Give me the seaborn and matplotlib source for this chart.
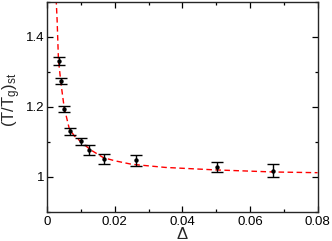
import numpy as np
import pandas as pd
import matplotlib
matplotlib.use("Agg")
import matplotlib.pyplot as plt
from matplotlib.ticker import MultipleLocator, FuncFormatter
import seaborn as sns

# measured points
delta = [0.0034, 0.0040, 0.0050, 0.0066, 0.0100, 0.0124, 0.0168, 0.0263, 0.0501, 0.0668]
ratio = [1.330, 1.274, 1.194, 1.130, 1.101, 1.076, 1.051, 1.047, 1.027, 1.017]
err = [0.011, 0.009, 0.009, 0.010, 0.010, 0.014, 0.014, 0.016, 0.015, 0.018]

# fitted curve
fit_delta = [0.0026, 0.0029, 0.0033, 0.0041, 0.0050, 0.0065, 0.0080, 0.0099,
             0.0127, 0.0166, 0.0200, 0.0250, 0.0350, 0.0497, 0.0670, 0.0800]
fit_ratio = [1.510, 1.448, 1.333, 1.262, 1.197, 1.137, 1.116, 1.100,
             1.077, 1.054, 1.045, 1.035, 1.026, 1.019, 1.013, 1.011]

sns.set_style("ticks")
plt.rcParams["font.family"] = ["Liberation Sans", "DejaVu Sans"]
plt.rcParams["mathtext.fontset"] = "custom"
plt.rcParams["mathtext.rm"] = "Liberation Sans"
plt.rcParams["mathtext.it"] = "Liberation Sans"

fig = plt.figure(figsize=(3.32, 2.41), dpi=100)
ax = fig.add_axes([0.1425, 0.1224, 0.8140, 0.8706])

fit = pd.DataFrame({"delta": fit_delta, "ratio": fit_ratio})
sns.lineplot(data=fit, x="delta", y="ratio", ax=ax, color="red",
             linewidth=1.0, dashes=False, linestyle=(0, (4, 2.5)), sort=False)

ax.errorbar(delta, ratio, yerr=err, fmt="none", ecolor="black",
            elinewidth=1.0, capsize=4.3, capthick=1.0)
pts = pd.DataFrame({"delta": delta, "ratio": ratio})
sns.scatterplot(data=pts, x="delta", y="ratio", ax=ax, color="black",
                s=10, edgecolor="black", linewidth=0, zorder=5)

ax.set_xlim(0, 0.08)
ax.set_ylim(0.9, 1.5)
ax.xaxis.set_major_locator(MultipleLocator(0.02))
ax.xaxis.set_minor_locator(MultipleLocator(0.01))
ax.yaxis.set_major_locator(MultipleLocator(0.2))
ax.yaxis.set_minor_locator(MultipleLocator(0.1))
ax.xaxis.set_major_formatter(FuncFormatter(lambda v, p: f"{v:g}"))
ax.yaxis.set_major_formatter(FuncFormatter(lambda v, p: f"{v:g}"))
ax.tick_params(which="both", direction="in", top=True, right=True,
               width=0.9, labelsize=9.5, colors="black")
ax.tick_params(which="major", length=4)
ax.tick_params(which="minor", length=2.5)
ax.tick_params(axis="x", which="major", pad=3.5)
ax.tick_params(axis="y", which="major", pad=2)
for s in ax.spines.values():
    s.set_linewidth(1.0)

ax.set_xlabel("Δ", fontsize=12)
ax.xaxis.set_label_coords(0.5, -0.075)
ax.set_ylabel(r"$\mathregular{(T/T_g)_{st}}$", fontsize=12)
ax.yaxis.set_label_coords(-0.09, 0.53)

fig.savefig("out.png", dpi=100)
